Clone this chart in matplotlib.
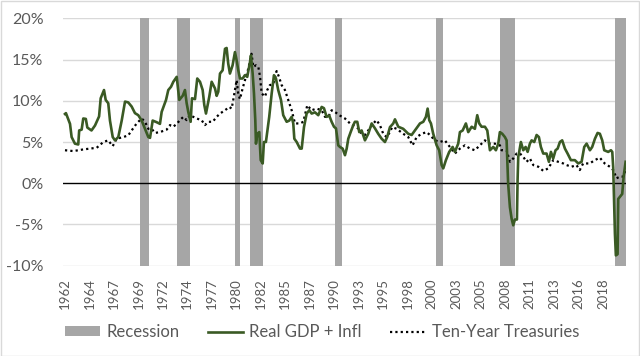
import matplotlib
matplotlib.use("Agg")
import matplotlib.pyplot as plt
from matplotlib.patches import Rectangle, Patch
from matplotlib.lines import Line2D
from matplotlib.ticker import FuncFormatter

# recession periods (start, end) in decimal years
rec_start = [1969.92, 1973.83, 1980.0, 1981.5, 1990.5, 2001.17, 2007.92, 2020.08]
rec_end = [1970.92, 1975.2, 1980.5, 1982.9, 1991.25, 2001.9, 2009.5, 2021.25]

# Real GDP + Infl, % (decimal year, value)
gdp_year = [1962.0, 1962.1, 1962.53, 1962.7, 1963.05, 1963.4, 1963.5, 1963.76, 1963.93, 1964.2,
            1964.36, 1964.8, 1965.17, 1965.6, 1965.77, 1966.12, 1966.3, 1966.57, 1966.75, 1967.04,
            1967.28, 1967.63, 1967.99, 1968.34, 1968.68, 1969.04, 1969.39, 1969.74, 1970.1, 1970.45,
            1970.8, 1970.98, 1971.26, 1971.68, 1972.03, 1972.21, 1972.67, 1972.91, 1973.2, 1973.44,
            1973.8, 1974.07, 1974.43, 1974.67, 1974.85, 1975.02, 1975.27, 1975.41, 1975.73, 1975.97,
            1976.26, 1976.54, 1976.71, 1976.89, 1977.24, 1977.49, 1977.84, 1978.02, 1978.19, 1978.37,
            1978.65, 1978.72, 1978.9, 1979.07, 1979.24, 1979.42, 1979.7, 1979.95, 1980.13, 1980.3,
            1980.48, 1980.76, 1981.0, 1981.25, 1981.54, 1981.64, 1981.82, 1981.96, 1982.1, 1982.17,
            1982.31, 1982.52, 1982.67, 1982.88, 1983.01, 1983.22, 1983.36, 1983.57, 1983.83, 1984.07,
            1984.28, 1984.52, 1984.81, 1985.05, 1985.41, 1985.69, 1985.94, 1986.11, 1986.22, 1986.47,
            1986.82, 1987.0, 1987.24, 1987.52, 1987.8, 1988.05, 1988.4, 1988.75, 1989.11, 1989.35,
            1989.63, 1989.91, 1990.16, 1990.41, 1990.62, 1990.86, 1991.04, 1991.32, 1991.57, 1991.75,
            1991.92, 1992.17, 1992.45, 1992.62, 1992.87, 1993.08, 1993.33, 1993.68, 1994.03, 1994.39,
            1994.74, 1995.08, 1995.44, 1995.79, 1996.03, 1996.32, 1996.67, 1996.85, 1997.2, 1997.72,
            1998.25, 1998.61, 1998.96, 1999.49, 1999.84, 2000.12, 2000.3, 2000.47, 2000.65, 2000.89,
            2001.25, 2001.52, 2001.78, 2001.95, 2002.23, 2002.58, 2002.94, 2003.18, 2003.53, 2003.71,
            2004.0, 2004.34, 2004.59, 2004.95, 2005.29, 2005.54, 2005.75, 2006.0, 2006.35, 2006.6,
            2006.88, 2007.23, 2007.51, 2007.76, 2007.93, 2008.18, 2008.46, 2008.64, 2008.75, 2008.8,
            2008.99, 2009.17, 2009.34, 2009.52, 2009.73, 2009.8, 2009.87, 2009.94, 2010.15, 2010.4,
            2010.65, 2010.86, 2011.1, 2011.28, 2011.56, 2011.81, 2012.05, 2012.26, 2012.51, 2012.86,
            2013.11, 2013.32, 2013.56, 2013.81, 2014.03, 2014.27, 2014.51, 2014.8, 2015.08, 2015.43,
            2015.85, 2016.2, 2016.56, 2016.84, 2017.09, 2017.44, 2017.68, 2017.97, 2018.25, 2018.49,
            2018.74, 2018.95, 2019.37, 2019.66, 2019.8, 2019.9, 2020.08, 2020.18, 2020.36, 2020.43,
            2020.71, 2020.85, 2021.0, 2021.21]
gdp_val = [8.4, 8.5, 7.2, 5.6, 4.8, 4.7, 6.4, 6.5, 7.85, 7.8,
           6.75, 6.4, 7.0, 8.1, 10.3, 11.3, 10.1, 9.7, 7.6, 5.6,
           5.2, 5.6, 7.6, 9.9, 9.8, 9.3, 8.5, 8.25, 7.6, 6.6,
           5.6, 5.5, 7.6, 7.4, 7.2, 8.65, 10.1, 11.3, 11.7, 12.3,
           12.9, 10.1, 10.6, 11.3, 9.7, 8.65, 7.45, 10.3, 10.2, 12.7,
           12.3, 11.3, 9.5, 8.45, 10.5, 12.3, 11.5, 10.6, 11.1, 13.3,
           13.7, 14.5, 16.3, 16.4, 14.5, 13.3, 14.3, 15.9, 14.9, 13.7,
           12.7, 12.7, 13.1, 12.9, 14.7, 15.5, 13.3, 10.9, 7.6, 4.8,
           6.0, 6.2, 2.8, 2.4, 5.0, 5.0, 6.2, 8.05, 10.9, 13.1,
           12.7, 11.3, 10.1, 8.25, 7.45, 7.6, 8.05, 7.25, 5.4, 5.0,
           4.2, 4.2, 6.8, 8.45, 8.85, 8.45, 8.6, 8.25, 9.25, 9.1,
           8.05, 8.2, 7.45, 6.85, 6.65, 4.6, 4.4, 4.2, 3.4, 4.2,
           5.4, 6.2, 7.05, 7.45, 7.45, 6.2, 6.4, 5.2, 6.0, 7.25,
           6.65, 6.0, 5.4, 5.0, 5.6, 6.8, 7.25, 7.75, 6.85, 6.6,
           6.0, 5.85, 6.4, 7.25, 7.45, 8.05, 9.05, 7.65, 7.25, 6.0,
           4.6, 4.0, 2.2, 1.8, 2.8, 3.8, 4.4, 3.8, 4.8, 6.2,
           6.4, 7.25, 6.2, 6.85, 6.6, 8.25, 7.25, 6.85, 6.85, 6.4,
           4.0, 4.4, 4.0, 4.8, 6.2, 6.0, 5.6, 5.2, 1.6, 0.0,
           -2.9, -4.3, -5.1, -4.4, -4.4, 0.4, 3.2, 3.6, 5.0, 4.0,
           4.4, 3.8, 4.8, 5.2, 5.0, 5.85, 5.6, 4.4, 3.6, 3.6,
           2.6, 3.8, 3.0, 4.0, 4.2, 5.0, 5.2, 4.2, 3.6, 2.8,
           2.8, 2.4, 2.6, 4.4, 4.8, 4.0, 4.4, 5.4, 6.1, 6.0,
           5.2, 4.0, 3.8, 4.0, 3.8, 1.9, -6.1, -8.75, -8.6, -1.9,
           -1.5, -1.3, 0.8, 2.6]

# Ten-Year Treasuries, % (decimal year, value)
tsy_year = [1962.0, 1962.88, 1963.93, 1965.35, 1966.05, 1966.57, 1967.04, 1967.46, 1968.16, 1968.68,
            1969.04, 1969.57, 1970.1, 1970.45, 1970.8, 1971.15, 1971.5, 1972.03, 1972.74, 1973.09,
            1973.44, 1973.8, 1974.14, 1974.5, 1974.85, 1975.2, 1975.55, 1975.9, 1976.43, 1976.78,
            1977.14, 1977.6, 1978.02, 1978.37, 1978.9, 1979.35, 1979.6, 1979.77, 1980.13, 1980.3,
            1980.48, 1980.76, 1981.11, 1981.36, 1981.7, 1981.89, 1982.17, 1982.42, 1982.6, 1982.77,
            1983.12, 1983.36, 1983.64, 1983.99, 1984.35, 1984.6, 1984.88, 1985.23, 1985.58, 1985.94,
            1986.29, 1986.82, 1987.17, 1987.59, 1988.05, 1988.57, 1989.11, 1989.46, 1989.81, 1990.16,
            1990.5, 1991.04, 1991.57, 1992.1, 1992.62, 1992.97, 1993.33, 1993.68, 1994.03, 1994.56,
            1994.9, 1995.26, 1995.61, 1995.96, 1996.32, 1996.55, 1997.03, 1997.72, 1998.25, 1998.71,
            1999.14, 1999.67, 2000.19, 2000.54, 2001.07, 2001.6, 2002.12, 2002.65, 2003.18, 2003.71,
            2004.24, 2004.77, 2005.29, 2005.82, 2006.35, 2006.88, 2007.4, 2007.93, 2008.11, 2008.64,
            2008.99, 2009.34, 2009.7, 2010.05, 2010.4, 2010.75, 2011.1, 2011.46, 2011.99, 2012.51,
            2013.04, 2013.56, 2014.09, 2014.62, 2014.97, 2015.5, 2016.02, 2016.37, 2016.72, 2017.42,
            2017.95, 2018.48, 2019.0, 2019.54, 2019.9, 2020.25, 2020.6, 2020.95, 2021.2]
tsy_val = [4.0, 3.9, 4.1, 4.3, 5.0, 5.2, 4.5, 5.4, 5.6, 5.8,
           6.4, 7.25, 7.85, 7.45, 6.6, 6.6, 6.1, 6.2, 6.5, 7.05,
           6.85, 7.2, 7.65, 8.05, 7.65, 8.25, 8.05, 7.85, 7.65, 7.05,
           7.45, 7.45, 8.05, 8.45, 8.85, 9.25, 9.05, 10.1, 12.5, 10.8,
           10.2, 11.5, 12.9, 13.9, 15.7, 14.1, 14.3, 14.1, 12.9, 10.9,
           10.5, 11.3, 11.9, 12.0, 13.6, 12.9, 11.9, 11.3, 10.1, 8.85,
           7.25, 7.25, 7.45, 9.45, 8.85, 9.05, 8.85, 8.05, 8.05, 8.85,
           8.65, 8.2, 7.85, 7.25, 6.85, 6.65, 6.0, 5.85, 6.4, 7.25,
           7.65, 7.05, 6.0, 5.6, 6.2, 6.8, 6.6, 6.0, 5.6, 4.6,
           5.6, 6.0, 6.2, 5.85, 5.2, 5.0, 5.2, 4.4, 3.6, 4.2,
           4.6, 4.2, 4.0, 4.6, 5.2, 4.8, 4.8, 4.6, 4.0, 4.0,
           2.6, 3.0, 3.6, 3.6, 3.2, 2.6, 3.0, 2.2, 2.0, 1.5,
           1.8, 2.8, 2.6, 2.4, 2.2, 2.0, 2.2, 1.6, 2.4, 2.4,
           2.8, 3.1, 2.4, 2.0, 1.6, 0.6, 0.8, 0.8, 1.6]

# x labels every 31 months starting Jan 1962
tick_labels = ["1962", "1964", "1967", "1969", "1972", "1974", "1977", "1980", "1982", "1985",
               "1987", "1990", "1993", "1995", "1998", "2000", "2003", "2005", "2008", "2011",
               "2013", "2016", "2018"]
y_ticks = [-10, -5, 0, 5, 10, 15, 20]

green = "#3a5a24"
gray_txt = "#595959"
rec_col = "#a6a6a6"
dots = (0, (1, 1.4))

plt.rcParams['font.family'] = ['Lato', 'DejaVu Sans']

fig = plt.figure(figsize=(6.4, 3.56), dpi=100)
ax = fig.add_axes([63 / 640, 1 - 265.7 / 356, (626 - 63) / 640, (265.7 - 18.3) / 356])

for s, e in zip(rec_start, rec_end):
    ax.axvspan(s, e, ymin=0, ymax=1, color=rec_col, lw=0, zorder=1)

for v in y_ticks:
    if v != 0:
        ax.axhline(v, color="#d9d9d9", lw=1, zorder=0)
ax.axhline(0, color="black", lw=1, zorder=2)

ax.plot(gdp_year, gdp_val, color=green, lw=1.9, zorder=4, solid_joinstyle="round")
ax.plot(tsy_year, tsy_val, color="black", lw=1.6, linestyle=dots, zorder=3)

ax.set_xlim(1961.79, 2021.25)
ax.set_ylim(-10, 20)
ax.set_yticks(y_ticks)
ax.yaxis.set_major_formatter(FuncFormatter(lambda v, p: f"{v:.0f}%"))
tick_pos = [1962 + 31 * i / 12 for i in range(len(tick_labels))]
ax.set_xticks(tick_pos)
ax.set_xticklabels(tick_labels, rotation=90)
ax.tick_params(axis="x", length=0, pad=9, labelsize=9.5, colors=gray_txt)
ax.tick_params(axis="y", length=0, pad=14, labelsize=11.5, colors=gray_txt)
for sp in ax.spines.values():
    sp.set_visible(False)

handles = [Patch(facecolor=rec_col, edgecolor="none"),
           Line2D([], [], color=green, lw=1.9),
           Line2D([], [], color="black", lw=1.6, linestyle=dots)]
labels = ["Recession", "Real GDP + Infl", "Ten-Year Treasuries"]
leg = fig.legend(handles, labels, loc="center", bbox_to_anchor=(322 / 640, 1 - 332 / 356),
                 ncol=3, frameon=False, fontsize=12, handlelength=2.1, handleheight=0.55,
                 handletextpad=0.4, columnspacing=1.7, labelcolor=gray_txt)

fig.patches.append(Rectangle((0.5 / 640, 0.5 / 356), 638.5 / 640, 354.5 / 356,
                             transform=fig.transFigure, fill=False, edgecolor="#d9d9d9", lw=1))

fig.savefig("out.png", dpi=100)
